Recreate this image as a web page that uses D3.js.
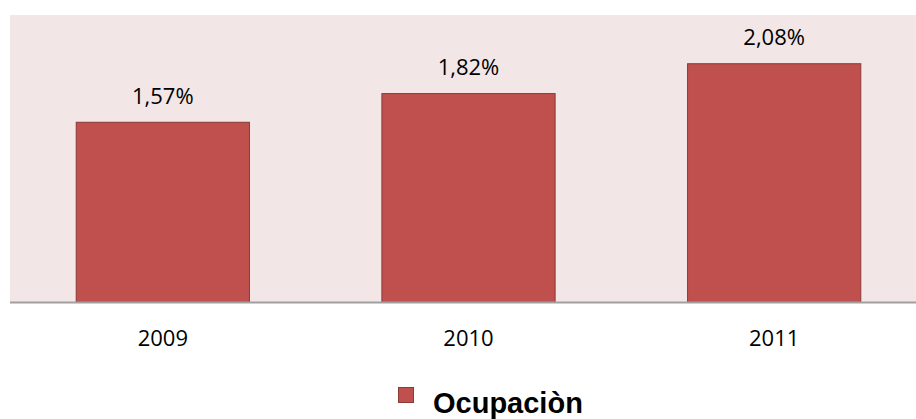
<!DOCTYPE html>
<html>
<head>
<meta charset="utf-8">
<script src="https://cdn.jsdelivr.net/npm/d3@7"></script>
<style>
  body { margin: 0; background: #fff; }
  svg { display: block; }
</style>
</head>
<body>
<svg id="graf" width="916" height="419"></svg>
<script>
// données
var annees = ["2009", "2010", "2011"];
var valeurs = [1.57, 1.82, 2.08];
var etiquettes = ["1,57%", "1,82%", "2,08%"];
var serie = "Ocupaciòn";

var svg = d3.select("#graf");

// zone de tracé
var gauche = 10, droite = 927, haut = 15, bas = 302;

var x = d3.scaleBand()
    .domain(annees)
    .range([gauche, droite])
    .paddingInner(0.43)
    .paddingOuter(0.215);

var y = d3.scaleLinear()
    .domain([0, 2.5])
    .range([bas, haut]);

svg.append("rect")
    .attr("x", gauche)
    .attr("y", haut)
    .attr("width", 916 - gauche)
    .attr("height", bas - haut)
    .attr("fill", "#f2e6e6");

//-------------------barres----------------------------------------
svg.selectAll(".barre")
    .data(valeurs)
    .enter()
    .append("rect")
    .attr("class", "barre")
    .attr("x", function(d, i){ return x(annees[i]) + 0.5; })
    .attr("y", function(d){ return y(d) + 0.5; })
    .attr("width", x.bandwidth() - 1)
    .attr("height", function(d){ return bas - y(d); })
    .attr("fill", "#c0504d")
    .attr("stroke", "#8c3a38")
    .attr("stroke-width", 1);

// étiquettes de valeur
svg.selectAll(".valeur")
    .data(valeurs)
    .enter()
    .append("text")
    .attr("x", function(d, i){ return x(annees[i]) + x.bandwidth() / 2; })
    .attr("y", function(d){ return y(d) - 18; })
    .attr("text-anchor", "middle")
    .attr("font-family", "Open Sans")
    .attr("font-size", 22)
    .attr("fill", "#000")
    .text(function(d, i){ return etiquettes[i]; });

//-------------------axe horizontal----------------------------------------
var axe = svg.append("g")
    .attr("transform", "translate(0," + (bas + 0.5) + ")")
    .call(d3.axisBottom(x).tickSize(0).tickPadding(28));

axe.select(".domain")
    .attr("d", "M" + gauche + ",0H916")
    .attr("stroke", "#a0a0a0")
    .attr("stroke-width", 2);

axe.selectAll("text")
    .attr("font-family", "Open Sans")
    .attr("font-size", 22)
    .attr("fill", "#000");

//-------------------légende----------------------------------------
svg.append("rect")
    .attr("x", 398.5)
    .attr("y", 387.5)
    .attr("width", 15)
    .attr("height", 15)
    .attr("fill", "#c0504d")
    .attr("stroke", "#8c3a38");

svg.append("text")
    .attr("x", 433)
    .attr("y", 413)
    .attr("font-family", "Liberation Sans")
    .attr("font-weight", "bold")
    .attr("font-size", 29)
    .attr("fill", "#000")
    .text(serie);
</script>
</body>
</html>
